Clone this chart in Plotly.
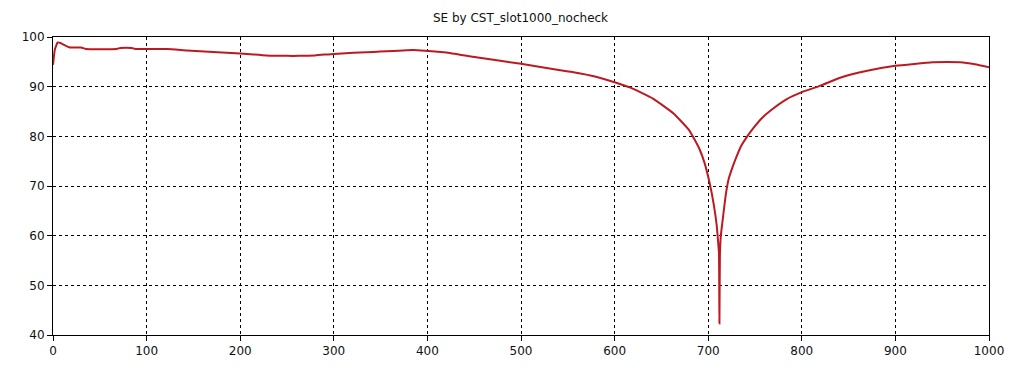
import plotly.graph_objects as go

title_text = "SE by CST_slot1000_nocheck"

freq = [0, 2, 5, 8, 12, 18, 30, 35, 68, 72, 84, 88, 122, 143, 171, 200, 228, 250, 263, 280,
        300, 342, 385, 400, 420, 452, 500, 542, 556, 580, 600, 617, 641, 663, 679, 685, 691, 696,
        702, 706, 709, 710.5, 711.5, 712, 712.5, 713.5, 716, 719, 722, 726, 729, 735, 741, 748,
        757, 766, 784, 800, 820, 841, 870, 900, 940, 969, 985, 1000]
se = [94.4, 97.5, 98.9, 98.8, 98.4, 97.9, 97.9, 97.6, 97.6, 97.8, 97.8, 97.6, 97.6, 97.3, 97.0,
      96.7, 96.3, 96.2, 96.2, 96.3, 96.6, 97.0, 97.4, 97.2, 96.9, 95.9, 94.6, 93.3, 92.9, 92.0,
      90.9, 89.8, 87.6, 84.6, 81.4, 79.5, 77.3, 74.7, 70.2, 66.2, 62.2, 59.0, 56.5, 42.3, 56.0,
      60.0, 64.0, 68.5, 71.5, 73.8, 75.3, 78.0, 79.8, 81.6, 83.6, 85.1, 87.5, 88.9, 90.2, 91.8,
      93.2, 94.2, 94.9, 94.9, 94.5, 93.9]

x_ticks = [0, 100, 200, 300, 400, 500, 600, 700, 800, 900, 1000]
y_ticks = [40, 50, 60, 70, 80, 90, 100]

fig = go.Figure()
fig.add_trace(go.Scatter(x=freq, y=se, mode="lines",
                         line=dict(color="#bc1a22", width=2, shape="spline", smoothing=0.4),
                         showlegend=False))

axis_common = dict(
    showline=True, linecolor="black", linewidth=1, mirror=True,
    showgrid=True, gridcolor="black", gridwidth=1, griddash="3px,3px",
    ticks="outside", ticklen=5, tickcolor="black", zeroline=False,
    tickfont=dict(family="DejaVu Sans", size=12, color="#111111"),
)

# the page body adds an 8px offset, so the figure is sized to fit the window
fig.update_layout(
    width=1025, height=362,
    margin=dict(l=45, r=44, t=29, b=35),
    paper_bgcolor="white", plot_bgcolor="white",
    title=dict(text=title_text, x=0.5, xanchor="center", y=1 - 10 / 362, yanchor="middle",
               font=dict(family="DejaVu Sans", size=12, color="#111111")),
    xaxis=dict(range=[0, 1000], tickvals=x_ticks, **axis_common),
    yaxis=dict(range=[40, 100], tickvals=y_ticks, **axis_common),
)

fig.write_html("out.html")
